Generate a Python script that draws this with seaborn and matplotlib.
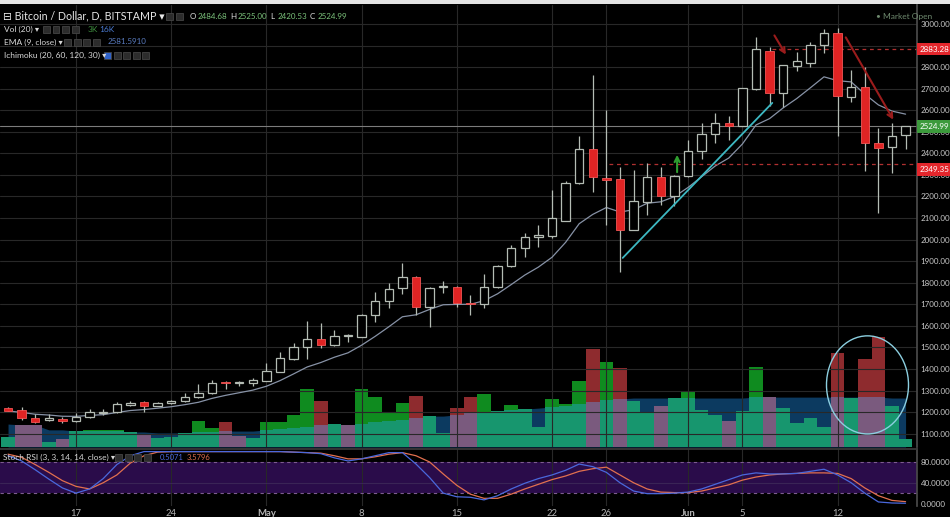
import numpy as np
import pandas as pd
import matplotlib
matplotlib.use("Agg")
import matplotlib.pyplot as plt
import seaborn as sns
from matplotlib.patches import Ellipse, Rectangle

# daily BTC/USD candles, Bitstamp, 12 Apr - 17 Jun 2017
dates = pd.date_range("2017-04-12", "2017-06-17", freq="D")

opens = [1218, 1210, 1172, 1163, 1170, 1158, 1176, 1198, 1202, 1235, 1246, 1230, 1240, 1252, 1270, 1290, 1340,
         1336, 1335, 1346, 1388, 1448, 1502, 1540, 1512, 1553, 1550, 1652, 1716, 1774, 1828, 1688, 1778, 1782,
         1706, 1700, 1778, 1878, 1962, 2014, 2018, 2088, 2264, 2420, 2284, 2281, 2045, 2174, 2290, 2202, 2295,
         2411, 2490, 2541, 2527, 2698, 2875, 2680, 2805, 2819, 2903, 2958, 2661, 2708, 2448, 2429, 2484.68]
highs = [1224, 1224, 1190, 1190, 1176, 1196, 1214, 1212, 1247, 1252, 1250, 1248, 1256, 1290, 1330, 1350, 1346,
         1346, 1358, 1428, 1478, 1522, 1622, 1614, 1580, 1564, 1654, 1758, 1800, 1892, 1832, 1780, 1808, 1786,
         1744, 1842, 1882, 1976, 2030, 2068, 2230, 2270, 2480, 2763, 2600, 2337, 2323, 2355, 2337, 2300, 2462,
         2541, 2587, 2573, 2705, 2940, 2893, 2812, 2870, 2917, 2977, 2981, 2787, 2800, 2518, 2541, 2525.00]
lows = [1203, 1164, 1150, 1158, 1150, 1152, 1172, 1186, 1198, 1230, 1202, 1226, 1236, 1248, 1266, 1286, 1306,
        1322, 1320, 1342, 1384, 1440, 1448, 1498, 1508, 1526, 1546, 1618, 1684, 1748, 1650, 1596, 1752, 1688,
        1650, 1684, 1774, 1874, 1920, 1966, 2008, 2084, 2260, 2221, 2068, 1850, 2045, 2114, 2160, 2156, 2292,
        2374, 2448, 2462, 2525, 2695, 2620, 2615, 2782, 2800, 2866, 2481, 2638, 2318, 2123, 2309, 2420.53]
closes = [1205, 1173, 1155, 1172, 1158, 1178, 1202, 1202, 1238, 1244, 1230, 1243, 1252, 1272, 1290, 1336, 1334,
          1338, 1350, 1392, 1450, 1502, 1538, 1512, 1553, 1556, 1652, 1716, 1772, 1828, 1688, 1776, 1784, 1706,
          1702, 1782, 1878, 1962, 2012, 2020, 2100, 2264, 2420, 2290, 2276, 2045, 2179, 2290, 2202, 2295, 2411,
          2490, 2541, 2527, 2703, 2884, 2680, 2810, 2828, 2903, 2958, 2666, 2708, 2448, 2425, 2481, 2524.99]

# volume in thousands of BTC, its 20-day average, and bar colour (1 = up / green)
volume_k = [3.3, 7.2, 7.2, 1.6, 2.6, 5.2, 5.6, 5.6, 5.6, 4.9, 3.9, 2.9, 3.3, 4.6, 8.5, 6.2, 8.2, 3.6, 2.9, 8.2,
            8.2, 10.5, 19.0, 15.0, 7.5, 7.2, 19.0, 16.3, 11.1, 14.4, 16.7, 10.1, 4.6, 12.7, 16.3, 17.3, 11.8, 13.7,
            12.4, 6.5, 15.7, 14.1, 21.6, 32.0, 27.8, 25.8, 15.0, 11.4, 13.4, 16.0, 18.0, 12.1, 10.5, 8.5, 11.8,
            26.1, 16.3, 12.7, 7.8, 9.5, 6.5, 30.7, 16.0, 28.8, 35.9, 13.4, 2.6]
volume_ma_k = [7.5, 7.2, 7.2, 5.6, 5.6, 5.2, 5.2, 5.2, 5.2, 4.9, 4.9, 4.6, 4.6, 4.6, 4.9, 4.9, 5.2, 5.2, 5.2, 5.6,
               5.9, 6.2, 6.5, 7.2, 7.5, 7.2, 7.5, 8.2, 8.5, 8.8, 9.5, 10.1, 10.1, 10.5, 11.1, 11.4, 11.8, 12.1,
               12.4, 12.7, 13.1, 13.4, 14.1, 14.7, 15.4, 15.7, 16.0, 16.0, 16.0, 16.0, 16.0, 16.0, 16.0, 16.0,
               16.0, 16.3, 16.3, 16.3, 16.3, 16.3, 16.3, 16.3, 16.3, 16.3, 16.3, 16.0, 16.0]
vol_up = [1, 0, 0, 1, 0, 1, 1, 1, 1, 1, 0, 1, 1, 1, 1, 1, 0, 0, 1, 1, 1, 1, 1, 0, 1, 0, 1, 1, 1, 1, 0, 1, 1, 0,
          0, 1, 1, 1, 1, 1, 1, 1, 1, 0, 1, 0, 1, 1, 0, 1, 1, 1, 1, 0, 1, 1, 0, 1, 1, 1, 1, 0, 1, 0, 0, 1, 1]

# Stoch RSI (3, 3, 14, 14)
stoch_k = [92, 82, 65, 47, 30, 20, 28, 48, 75, 92, 100, 100, 100, 100, 100, 100, 100, 100, 100, 100, 100, 99,
           98, 96, 88, 82, 86, 92, 98, 98, 76, 50, 20, 13, 12, 7, 15, 28, 39, 48, 55, 64, 76, 71, 60, 40, 24, 19,
           19, 20, 22, 28, 37, 46, 55, 59, 57, 57, 58, 62, 66, 55, 40, 20, 3, 1, 0.5071]
stoch_d = [95, 89, 75, 60, 44, 33, 28, 40, 55, 78, 92, 99, 100, 100, 100, 100, 100, 100, 100, 100, 100, 99, 98,
           97, 92, 86, 86, 90, 95, 98, 92, 80, 57, 35, 18, 10, 10, 18, 28, 37, 46, 53, 62, 67, 70, 55, 40, 28, 22,
           21, 21, 24, 30, 36, 45, 51, 55, 57, 58, 59, 59, 58, 48, 30, 15, 6, 3.5796]

# drawings on the chart
trend_line = ([45.2, 56.2], [1915, 2634])
resistance, support = 2883.28, 2349.35
last_close = 2524.99
price_ticks = list(range(1100, 3001, 100))
stoch_ticks = [0, 40, 80]
tick_days = ["2017-04-17", "2017-04-24", "2017-05-01", "2017-05-08", "2017-05-15", "2017-05-22",
             "2017-05-26", "2017-06-01", "2017-06-05", "2017-06-12"]
tick_labels = ["17", "24", "May", "8", "15", "22", "26", "Jun", "5", "12"]

sns.set_theme(style="dark", rc={"axes.facecolor": "black", "figure.facecolor": "black",
                                "axes.edgecolor": "#4a4a4a", "axes.grid": False})
plt.rcParams["font.family"] = ["Lato", "DejaVu Sans"]

W, H = 950, 517
fig = plt.figure(figsize=(W / 100, H / 100), dpi=100)


def rect(top, bottom, left=0, right=917):
    return [left / W, 1 - bottom / H, (right - left) / W, (bottom - top) / H]


x = np.arange(len(dates))
o, h, l, c = map(np.array, (opens, highs, lows, closes))
xlim = (-0.59, 66.84)
grid_col = "#282828"
tick_x = [dates.get_loc(pd.Timestamp(d)) for d in tick_days]
axis_fs = 5.8

# volume pane (behind the candles)
axv = fig.add_axes(rect(5, 447), zorder=0)
axv.set_facecolor("black")
vol = np.array(volume_k)
vma = np.array(volume_ma_k)
upv = np.array(vol_up, dtype=bool)
axv.fill_between(x, 0, vma, color="#0c3a60", lw=0, zorder=1)
low_part = np.minimum(vol, vma)
axv.bar(x, vol, width=1.0, color=np.where(upv, "#0f8b1f", "#8e2b2e"), lw=0, zorder=2)
axv.bar(x, low_part, width=1.0, color=np.where(upv, "#17966e", "#7a5a7e"), lw=0, zorder=3)
axv.set_xlim(*xlim)
axv.set_ylim(0, 144.4)
axv.set_xticks([])
axv.set_yticks([])
for s in axv.spines.values():
    s.set_visible(False)

# price pane
ax = fig.add_axes(rect(5, 447), zorder=1)
ax.set_facecolor("none")
ax.set_xlim(*xlim)
ax.set_ylim(1038, 3088)
for t in price_ticks:
    ax.axhline(t, color=grid_col, lw=0.8, zorder=0)
for t in tick_x:
    ax.axvline(t, color=grid_col, lw=0.8, zorder=0)
ax.axhline(last_close, color="#7c7c7c", lw=0.8, zorder=1)

ema = pd.Series(closes).ewm(span=9, adjust=False).mean()
sns.lineplot(x=x, y=ema.values, ax=ax, color="#8792a6", lw=0.9, zorder=2)

up = c >= o
ax.vlines(x, l, h, color="#b4bcb4", lw=0.9, zorder=3)
body_lo = np.minimum(o, c)
body_h = np.maximum(np.abs(c - o), 4)
ax.bar(x[up], body_h[up], bottom=body_lo[up], width=0.62, facecolor="black",
       edgecolor="#b4bcb4", lw=0.9, zorder=4)
ax.bar(x[~up], body_h[~up], bottom=body_lo[~up], width=0.62, facecolor="#e02424",
       edgecolor="#f25555", lw=0.6, zorder=4)

ax.plot(*trend_line, color="#3db8c2", lw=1.3, zorder=5)
ax.hlines(resistance, 56.2, xlim[1], color="#b03030", lw=0.9, ls=(0, (3, 3)), zorder=2)
ax.hlines(support, 44.2, xlim[1], color="#b03030", lw=0.9, ls=(0, (3, 3)), zorder=2)
arrow = dict(arrowstyle="->", lw=1.5, mutation_scale=9)
ax.annotate("", xy=(57.3, 2847), xytext=(56.25, 2958), arrowprops=dict(arrow, color="#9a1c1c"), zorder=6)
ax.annotate("", xy=(65.2, 2545), xytext=(61.5, 2949), arrowprops=dict(arrow, color="#9a1c1c"), zorder=6)
ax.annotate("", xy=(49.2, 2406), xytext=(49.2, 2300), arrowprops=dict(arrow, color="#2f9e2f"), zorder=6)
ax.add_patch(Ellipse((63.2, 1326), 6.03, 455, fill=False, edgecolor="#8ccfe0", lw=1.0, zorder=6))

ax.yaxis.tick_right()
ax.set_yticks(price_ticks)
ax.set_yticklabels([f"{t:.2f}" for t in price_ticks])
ax.tick_params(axis="y", colors="#c8c8c8", labelsize=axis_fs, length=0, pad=2.5)
ax.set_xticks([])
ax.set_ylabel("")
for side in ("top", "left", "bottom"):
    ax.spines[side].set_visible(False)
ax.spines["right"].set_color("#4a4a4a")

box = dict(boxstyle="square,pad=0.35", lw=0)
for val, col, dy in [(resistance, "#e3262c", 0), (last_close, "#3c9a3c", 0), (support, "#e3262c", -4)]:
    ax.annotate(f"{val:.2f}", xy=(1.0, val), xycoords=("axes fraction", "data"), xytext=(2, dy),
                textcoords="offset points", va="center", ha="left", fontsize=axis_fs, color="white",
                bbox=dict(box, fc=col), annotation_clip=False, zorder=10)

# Stoch RSI pane
axs = fig.add_axes(rect(449, 506))
axs.set_facecolor("black")
axs.set_xlim(*xlim)
axs.set_ylim(-4.8, 105)
axs.axhspan(20, 80, color="#2a0c4a", lw=0, zorder=0)
for t in tick_x:
    axs.axvline(t, color=grid_col, lw=0.8, zorder=1)
axs.axhline(40, color="#3a2456", lw=0.8, zorder=1)
axs.axhline(80, color="#7d5c90", lw=0.8, ls=(0, (3, 3)), zorder=1)
axs.axhline(20, color="#7d5c90", lw=0.8, ls=(0, (3, 3)), zorder=1)
sns.lineplot(x=x, y=stoch_d, ax=axs, color="#e2704f", lw=0.9, zorder=3)
sns.lineplot(x=x, y=stoch_k, ax=axs, color="#4a68dc", lw=0.9, zorder=3)
axs.yaxis.tick_right()
axs.set_yticks(stoch_ticks)
axs.set_yticklabels([f"{t:.4f}" for t in stoch_ticks])
axs.tick_params(axis="y", colors="#c8c8c8", labelsize=axis_fs, length=0, pad=2.5)
axs.set_xticks(tick_x)
axs.set_xticklabels(tick_labels)
axs.tick_params(axis="x", colors="#b4b4b4", labelsize=6.8, length=0, pad=2)
for lab in axs.get_xticklabels():
    if lab.get_text() in ("May", "Jun"):
        lab.set_fontweight("bold")
for side in ("left", "bottom"):
    axs.spines[side].set_visible(False)
axs.spines["right"].set_color("#4a4a4a")
axs.spines["top"].set_color("#3a3a3a")

# header / legends
def ftext(px, py, s, **kw):
    fig.text(px / W, 1 - py / H, s, va="center", ha="left", **kw)


def icons(px, py, n, first=None):
    for k in range(n):
        col = first if (k == 0 and first) else "#2c2c2c"
        fig.patches.append(Rectangle(((px + k * 9.5) / W, 1 - (py + 3.5) / H), 7 / W, 7 / H,
                                     transform=fig.transFigure, fc=col, ec="#444444", lw=0.6))


fig.patches.append(Rectangle((0, 1 - 4 / H), 1, 4 / H, transform=fig.transFigure, fc="#e4e4e4", lw=0))
ftext(3, 16, "⊟ Bitcoin / Dollar, D, BITSTAMP ▾", color="#e8e8e8", fontsize=7.7)
icons(166, 16, 2)
ohlc = [("O", "2484.68"), ("H", "2525.00"), ("L", "2420.53"), ("C", "2524.99")]
px = 190
for k, v in ohlc:
    ftext(px, 16.5, k, color="#e0e0e0", fontsize=5.8)
    ftext(px + 7.5, 16.5, v, color="#7cc47c", fontsize=5.8)
    px += 40
ftext(4, 29, "Vol (20) ▾", color="#d8d8d8", fontsize=6.0)
icons(43, 29, 4)
ftext(88, 29, "3K", color="#3f8f3f", fontsize=6.0)
ftext(99, 29, "16K", color="#4a7ad0", fontsize=6.0)
ftext(4, 42, "EMA (9, close) ▾", color="#d8d8d8", fontsize=6.0)
icons(64, 42, 4)
ftext(108, 42, "2581.5910", color="#5a7cc0", fontsize=5.8)
ftext(4, 55, "Ichimoku (20, 60, 120, 30) ▾", color="#d8d8d8", fontsize=6.0)
icons(104, 55, 5, first="#2f62c8")
ftext(876, 16, "• Market Open", color="#6f8a6f", fontsize=6.0)
ftext(3, 457, "Stoch RSI (3, 3, 14, 14, close) ▾", color="#d8d8d8", fontsize=6.0)
icons(115, 457, 4)
ftext(160, 457, "0.5071", color="#4a68dc", fontsize=5.5)
ftext(187, 457, "3.5796", color="#e2704f", fontsize=5.5)

fig.savefig("out.png", dpi=100, facecolor="black")
